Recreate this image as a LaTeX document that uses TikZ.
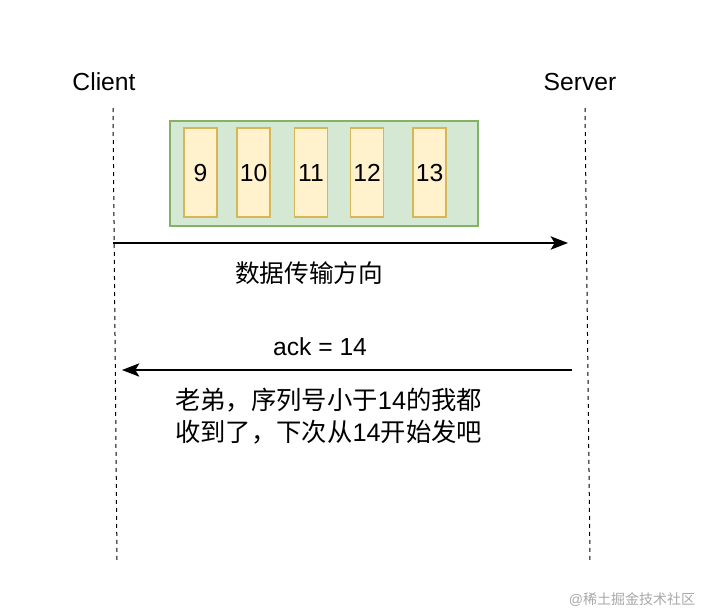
\documentclass[tikz,border=0pt]{standalone}
\usepackage{fontspec}
\setmainfont{Liberation Sans}
\newfontfamily\cjk{Noto Sans CJK SC}
\usetikzlibrary{arrows.meta}
\definecolor{grnfill}{HTML}{D5E8D4}
\definecolor{grnline}{HTML}{82B366}
\definecolor{ylwfill}{HTML}{FFF2CC}
\definecolor{ylwline}{HTML}{D6B656}
\definecolor{wmgray}{HTML}{A8A8A8}
\tikzset{
  lifeline/.style={draw=black, line width=0.75pt, dash pattern=on 3pt off 3pt},
  segbox/.style={draw=ylwline, fill=ylwfill, line width=1.2pt, minimum width=24.75pt, minimum height=66.75pt, inner sep=0pt, text height=13pt, text depth=0pt, font=\fontsize{18.5}{22}\selectfont},
  winbox/.style={draw=grnline, fill=grnfill, line width=1.2pt, minimum width=231pt, minimum height=78.75pt, inner sep=0pt},
  lbl/.style={inner sep=0pt, font=\fontsize{18.5}{22}\selectfont},
  msg/.style={-{Stealth[length=13pt,width=10pt,inset=3pt]}}
}
\begin{document}
\begin{tikzpicture}[x=0.75pt,y=-0.75pt]
\useasboundingbox (0,0) rectangle (702,614);
% labels
\node[lbl] (client) at (104,82) {Client};
\node[lbl] (server) at (580,82) {Server};
% lifelines
\coordinate (ctop) at (113,108);
\coordinate (cbot) at (117,562);
\coordinate (stop) at (585,108);
\coordinate (sbot) at (590,562);
\draw[lifeline] (ctop) -- (cbot);
\draw[lifeline] (stop) -- (sbot);
% window
\node[winbox] (win) at (324,173.5) {};
\node[segbox] (s9)  at (200.5,172.5) {9};
\node[segbox] (s10) at (253.5,172.5) {10};
\node[segbox] (s11) at (311,172.5) {11};
\node[segbox] (s12) at (367,172.5) {12};
\node[segbox] (s13) at (429.5,172.5) {13};
% data arrow
\coordinate (d1) at (113,243);
\coordinate (d2) at (568,243);
\draw[msg, line width=1.5pt] (d1) -- (d2);
\node[lbl] (dir) at (309,273) {\cjk 数据传输方向};
% ack arrow
\coordinate (a1) at (572,370);
\coordinate (a2) at (122,370);
\draw[msg, line width=0.9pt] (a1) -- (a2);
\node[lbl] (ack) at (320,347) {ack = 14};
\node[lbl, anchor=west, align=left, font=\fontsize{19}{24}\selectfont] (note) at (175,416)
  {{\cjk 老弟，序列号小于}14{\cjk 的我都}\\{\cjk 收到了，下次从}14{\cjk 开始发吧}};
% watermark
\node[inner sep=0pt, text=wmgray, font=\fontsize{10.5}{12}\selectfont] (wm) at (632,600) {@{\cjk 稀土掘金技术社区}};
\end{tikzpicture}
\end{document}
